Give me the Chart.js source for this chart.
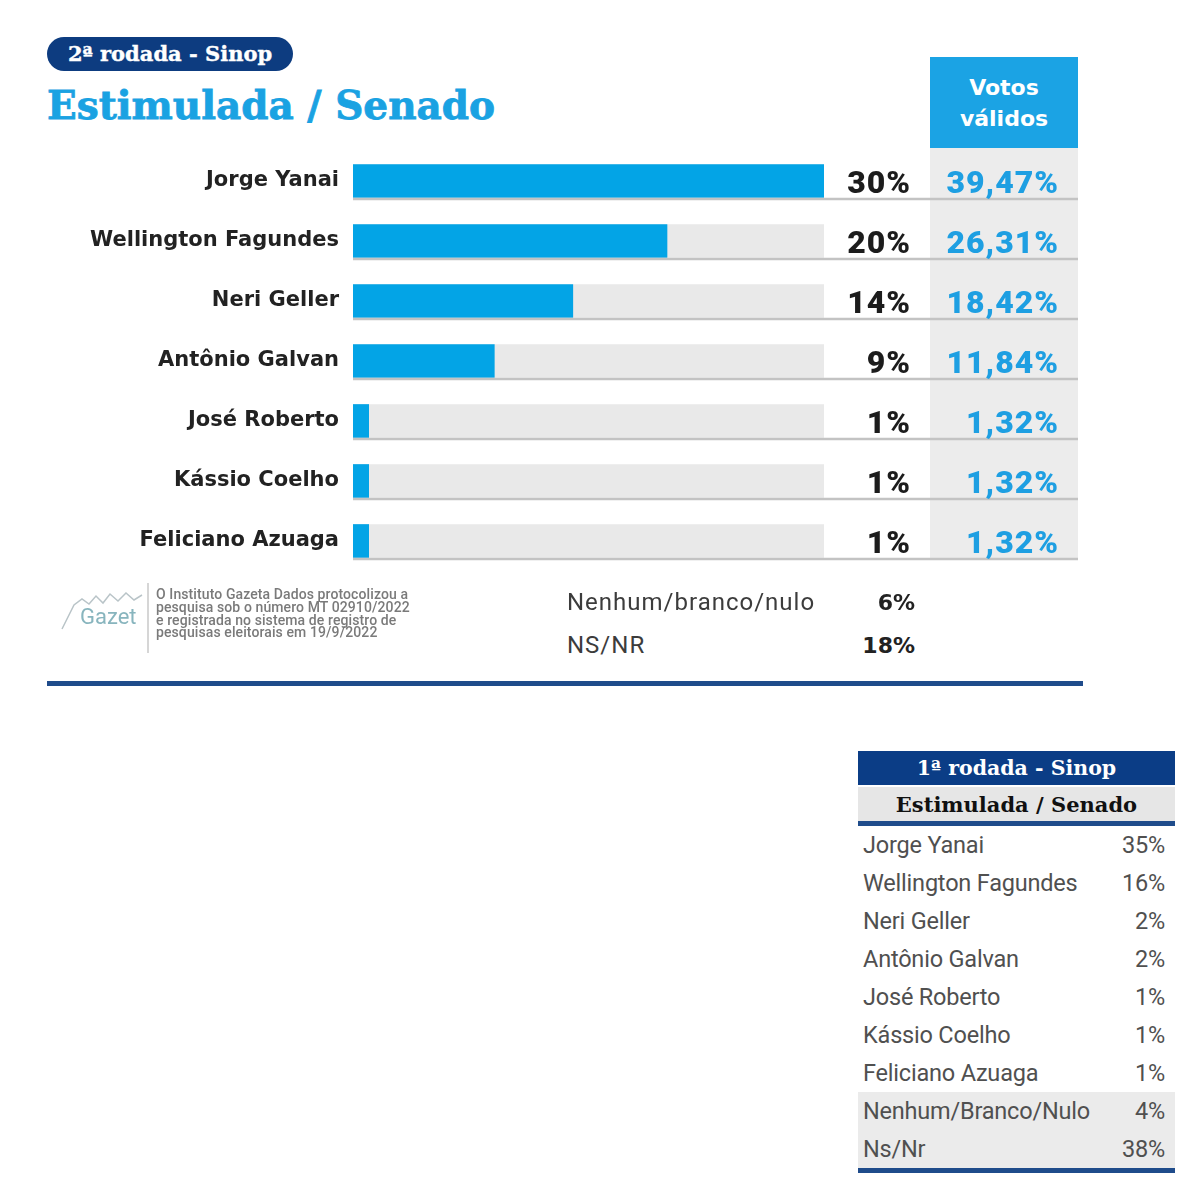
<!DOCTYPE html>
<html lang="pt-BR">
<head>
<meta charset="utf-8">
<title>Estimulada / Senado - Sinop</title>
<script src="https://cdn.jsdelivr.net/npm/chart.js@4.4.1/dist/chart.umd.min.js"></script>
<style>
  html, body { margin: 0; padding: 0; background: #fff; }
  #page { position: relative; width: 1200px; height: 1191px; overflow: hidden; font-family: Roboto, sans-serif; }
  .abs { position: absolute; }
  #pill { left: 47px; top: 37px; width: 246px; height: 34px; border-radius: 17px; background: #0d3c80;
          color: #fff; font: bold 21px "DejaVu Serif", serif; line-height: 34px; text-align: center; -webkit-text-stroke: 0.4px #fff; }
  #titulo { left: 47px; top: 86px; color: #1aa2e2; font: bold 39px "DejaVu Serif", serif; line-height: 1; white-space: nowrap; -webkit-text-stroke: 0.8px #1aa2e2; }
  #votosHead { left: 930px; top: 57px; width: 148px; height: 91px; background: #1ba3e4; color: #fff;
               font: bold 22px "DejaVu Sans", sans-serif; line-height: 31px; text-align: center; box-sizing: border-box; padding-top: 15px; }
  #votosHead::after { content: ""; position: absolute; left: 58px; bottom: -7px; border-left: 6px solid transparent;
                      border-right: 6px solid transparent; border-top: 7px solid #1ba3e4; }
  #chart { left: 0; top: 0; }
  #logo { left: 58px; top: 585px; width: 86px; height: 50px; }
  #sep { left: 147px; top: 583px; width: 2px; height: 70px; background: #d6d6d6; }
  #nota { left: 156px; top: 588px; color: #7a7a7a; font: 500 14px Roboto, sans-serif; letter-spacing: 0.1px; line-height: 12.8px; white-space: nowrap; }
  .outro { left: 567px; color: #3c3c3c; font: 24px Roboto, sans-serif; letter-spacing: 1px; white-space: nowrap; line-height: 1; }
  .outroV { right: 285px; color: #222; font: bold 22px "DejaVu Sans", sans-serif; line-height: 1; text-align: right; }
  #regua { left: 47px; top: 681px; width: 1036px; height: 5px; background: #1f4c8b; }
  #tab1 { left: 858px; top: 751px; width: 317px; border-collapse: collapse; }
  #tab1 td { padding: 0; height: 38px; font: 23.5px Roboto, sans-serif; color: #505050; letter-spacing: -0.2px; white-space: nowrap; }
  #tab1 td.n { padding-left: 5px; }
  #tab1 td.v { text-align: right; padding-right: 10px; }
  #tab1 tr.cinza td { background: #ebebeb; }
  #tab1 .h1 td { height: 34px; background: #0b3d86; color: #fff; font: bold 20.5px "DejaVu Serif", serif; text-align: center; letter-spacing: 0; }
  #tab1 .h2 td { height: 34px; background: #e6e6e6; color: #111; font: bold 21px "DejaVu Serif", serif; text-align: center; letter-spacing: 0; border-top: 2px solid #fff; border-bottom: 4px solid #fff; }
  #tab1 tr:last-child td { border-bottom: 5px solid #1f4c8b; }
</style>
</head>
<body>
<div id="page">
  <div id="pill" class="abs">2ª rodada - Sinop</div>
  <div id="titulo" class="abs">Estimulada / Senado</div>
  <div id="votosHead" class="abs">Votos<br>válidos</div>
  <canvas id="chart" class="abs" width="1200" height="600"></canvas>

  <svg id="logo" class="abs" viewBox="0 0 86 50">
    <polyline points="4,44 16,20 24,14 31,19 38,11 45,18 52,9 60,16 68,8 76,15 84,10" fill="none" stroke="#b9c4c8" stroke-width="1.5"/>
    <text x="22" y="39" fill="#88b5be" font-family="Roboto, sans-serif" font-size="22">Gazet</text>
  </svg>
  <div id="sep" class="abs"></div>
  <div id="nota" class="abs">O Instituto Gazeta Dados protocolizou a<br>pesquisa sob o número MT 02910/2022<br>e registrada no sistema de registro de<br>pesquisas eleitorais em 19/9/2022</div>
  <div id="outros"></div>
  <div id="regua" class="abs"></div>

  <table id="tab1" class="abs">
    <tr class="h1"><td colspan="2">1ª rodada - Sinop</td></tr>
    <tr class="h2"><td colspan="2">Estimulada / Senado</td></tr>
  </table>
</div>

<script>
// 2ª rodada - estimulada (%)
const candidatos = ["Jorge Yanai", "Wellington Fagundes", "Neri Geller", "Antônio Galvan", "José Roberto", "Kássio Coelho", "Feliciano Azuaga"];
const intencao = [30, 20, 14, 9, 1, 1, 1];
const votosValidos = [39.47, 26.31, 18.42, 11.84, 1.32, 1.32, 1.32];
const escalaMax = 30;

// brancos / indecisos
const outrosRotulos = ["Nenhum/branco/nulo", "NS/NR"];
const outrosValores = [6, 18];

// 1ª rodada
const rodada1Rotulos = ["Jorge Yanai", "Wellington Fagundes", "Neri Geller", "Antônio Galvan", "José Roberto", "Kássio Coelho", "Feliciano Azuaga", "Nenhum/Branco/Nulo", "Ns/Nr"];
const rodada1Valores = [35, 16, 2, 2, 1, 1, 1, 4, 38];

const fmt = v => v.toFixed(2).replace(".", ",") + "%";

// colunas de texto a direita das barras
const colunas = {
  id: "colunas",
  beforeDatasetsDraw(chart) {
    const { ctx, scales: { y } } = chart;
    const fim = y.getPixelForValue(candidatos.length - 1) + 19;
    ctx.save();
    ctx.fillStyle = "#ececec";
    ctx.fillRect(930, 148, 148, fim - 148);
    ctx.restore();
  },
  afterDatasetsDraw(chart) {
    const { ctx, chartArea, scales: { y } } = chart;
    ctx.save();
    candidatos.forEach((c, i) => {
      const py = y.getPixelForValue(i);
      ctx.strokeStyle = "#c3c3c3";
      ctx.lineWidth = 2.5;
      ctx.beginPath();
      ctx.moveTo(chartArea.left, py + 18);
      ctx.lineTo(1078, py + 18);
      ctx.stroke();

      ctx.letterSpacing = "1px";
      ctx.textAlign = "right";
      ctx.textBaseline = "alphabetic";
      ctx.font = "900 32px Roboto";
      ctx.fillStyle = "#1c1c1c";
      ctx.fillText(intencao[i] + "%", 911, py + 12);
      ctx.fillStyle = "#1e9fe2";
      ctx.fillText(fmt(votosValidos[i]), 1059, py + 12);
    });
    ctx.restore();
  }
};

new Chart(document.getElementById("chart"), {
  type: "bar",
  data: {
    labels: candidatos,
    datasets: [
      { data: intencao, backgroundColor: "#03a4e6", barThickness: 33, grouped: false, order: 1 },
      { data: candidatos.map(() => escalaMax), backgroundColor: "#e9e9e9", barThickness: 33, grouped: false, order: 2 }
    ]
  },
  options: {
    indexAxis: "y",
    responsive: false,
    animation: false,
    layout: { padding: { top: 151, right: 376, bottom: 29, left: 0 } },
    plugins: { legend: { display: false }, tooltip: { enabled: false } },
    scales: {
      x: { display: false, min: 0, max: escalaMax },
      y: {
        grid: { display: false, drawTicks: false },
        border: { display: false },
        ticks: { color: "#222", font: { family: "DejaVu Sans", weight: "bold", size: 21 }, padding: 14 },
        afterFit(scale) { scale.width = 353; }
      }
    }
  },
  plugins: [colunas]
});

// linhas Nenhum / NS
const outros = document.getElementById("outros");
const outrosTop = [590, 633];
outrosRotulos.forEach((r, i) => {
  const a = document.createElement("div");
  a.className = "abs outro";
  a.style.top = outrosTop[i] + "px";
  a.textContent = r;
  const b = document.createElement("div");
  b.className = "abs outroV";
  b.style.top = (outrosTop[i] + 2) + "px";
  b.textContent = outrosValores[i] + "%";
  outros.append(a, b);
});

// tabela 1ª rodada
const tab = document.getElementById("tab1");
rodada1Rotulos.forEach((r, i) => {
  const tr = document.createElement("tr");
  if (i >= 7) tr.className = "cinza";
  tr.innerHTML = `<td class="n">${r}</td><td class="v">${rodada1Valores[i]}%</td>`;
  tab.appendChild(tr);
});
</script>
</body>
</html>
